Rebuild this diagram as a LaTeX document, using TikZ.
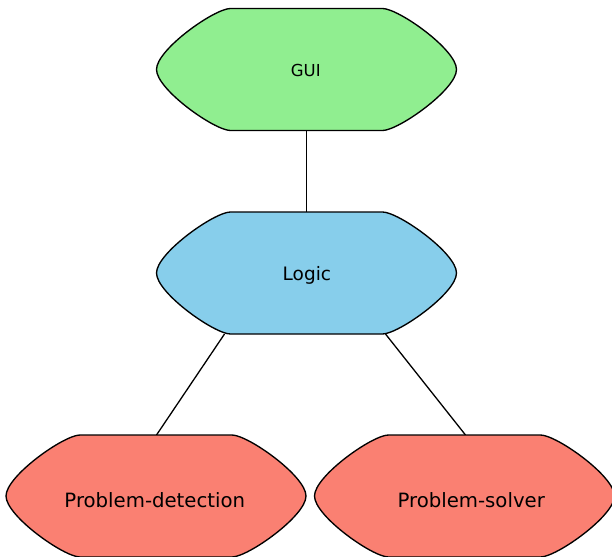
\documentclass[tikz,border=0pt]{standalone}
\usepackage{fontspec}
\setmainfont{DejaVu Sans}
\usetikzlibrary{backgrounds}
\definecolor{guigreen}{HTML}{90EE90}
\definecolor{logicblue}{HTML}{87CEEB}
\definecolor{probsalmon}{HTML}{FA8072}
\tikzset{
  label16/.style={inner sep=0pt, anchor=base, font=\fontsize{16.5}{19}\selectfont},
  label18/.style={inner sep=0pt, anchor=base, font=\fontsize{18.5}{22}\selectfont},
  label20/.style={inner sep=0pt, anchor=base, font=\fontsize{19.7}{23}\selectfont},
  hexline/.style={draw=black, line width=1.35pt},
  link/.style={draw=black, line width=1.3pt},
}
\newcommand\roundhex[2]{%
  \begin{scope}[shift={(#1)}]
    \filldraw[hexline, fill=#2] (-76,-61) -- (76,-61)
      .. controls (92,-61) and (150,-20) .. (150,0)
      .. controls (150,20) and (92,61) .. (76,61)
      -- (-76,61)
      .. controls (-92,61) and (-150,20) .. (-150,0)
      .. controls (-150,-20) and (-92,-61) .. (-76,-61) -- cycle;
  \end{scope}}
\begin{document}
\begin{tikzpicture}[x=1pt,y=-1pt]
\useasboundingbox (0,0) rectangle (612,556);
% shape centres
\coordinate (guic) at (306.5,69.5);
\coordinate (logicc) at (306.5,273);
\coordinate (pdc) at (156,496);
\coordinate (psc) at (464.5,496);
% anchor points for connectors
\coordinate (guib) at (306.5,130.5);
\coordinate (logict) at (306.5,212);
\coordinate (logicbl) at (224.5,334);
\coordinate (logicbr) at (385.5,334);
\coordinate (pdt) at (156.5,435);
\coordinate (pst) at (465.5,435);
\begin{scope}[on background layer]
  \draw[link] (guib) -- (logict);
  \draw[link] (logicbl) -- (pdt);
  \draw[link] (logicbr) -- (pst);
  \roundhex{guic}{guigreen}
  \roundhex{logicc}{logicblue}
  \roundhex{pdc}{probsalmon}
  \roundhex{psc}{probsalmon}
\end{scope}
\node[label16] (gui) at (305.8,76.7) {GUI};
\node[label18] (logic) at (306.9,280) {Logic};
\node[label20] (pd) at (154.8,507) {Problem-detection};
\node[label20] (ps) at (471.2,507) {Problem-solver};
\end{tikzpicture}
\end{document}
